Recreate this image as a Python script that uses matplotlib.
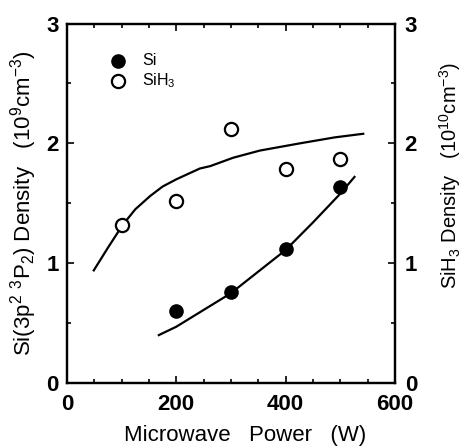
import matplotlib.pyplot as plt
from matplotlib.ticker import MultipleLocator

plt.rcParams["font.family"] = ["Liberation Sans", "DejaVu Sans"]
plt.rcParams["mathtext.fontset"] = "custom"
plt.rcParams["mathtext.rm"] = "Liberation Sans"
plt.rcParams["mathtext.it"] = "Liberation Sans"
plt.rcParams["mathtext.bf"] = "Liberation Sans:bold"

# measured points
si_power = [200, 300, 400, 500]
si_density = [0.60, 0.76, 1.12, 1.635]
sih3_power = [100, 200, 300, 400, 500]
sih3_density = [1.32, 1.52, 2.12, 1.79, 1.87]

# guide curves
si_curve_power = [168, 200, 250, 300, 350, 400, 450, 500, 526]
si_curve_density = [0.40, 0.47, 0.61, 0.75, 0.93, 1.11, 1.34, 1.58, 1.72]
sih3_curve_power = [49, 75, 102, 125, 152, 175, 200, 243, 262, 304, 353, 426, 490, 542]
sih3_curve_density = [0.94, 1.13, 1.32, 1.45, 1.56, 1.64, 1.70, 1.79, 1.81, 1.88, 1.94, 2.00, 2.05, 2.08]

fig = plt.figure(figsize=(4.63, 4.48), dpi=100)
ax = fig.add_axes([0.1447, 0.145, 0.7083, 0.8025])
ax2 = ax.twinx()

ax.plot(si_curve_power, si_curve_density, "-", color="black", lw=1.6)
ax2.plot(sih3_curve_power, sih3_curve_density, "-", color="black", lw=1.6)
ax.plot(si_power, si_density, "o", color="black", ms=9.5, zorder=3)
ax2.plot(sih3_power, sih3_density, "o", mfc="white", mec="black", mew=1.6, ms=9.5, zorder=3)

for a in (ax, ax2):
    a.set_xlim(0, 600)
    a.set_ylim(0, 3)
    a.yaxis.set_major_locator(MultipleLocator(1))
    a.yaxis.set_minor_locator(MultipleLocator(0.5))
    for s in a.spines.values():
        s.set_linewidth(1.6)

ax.xaxis.set_major_locator(MultipleLocator(200))
ax.xaxis.set_minor_locator(MultipleLocator(50))
ax.tick_params(which="both", direction="in", top=True, width=1.2)
ax.tick_params(which="major", length=5, labelsize=16)
ax.tick_params(axis="x", which="major", pad=8)
ax.tick_params(axis="y", which="major", pad=6)
ax.tick_params(which="minor", length=3)
ax2.tick_params(which="both", direction="in", width=1.2)
ax2.tick_params(which="major", length=5, labelsize=16, pad=7)
ax2.tick_params(which="minor", length=3)
for lab in ax.get_xticklabels() + ax.get_yticklabels() + ax2.get_yticklabels():
    lab.set_fontweight("bold")

ax.set_xlabel("Microwave   Power   (W)", fontsize=16, va="top")
ax.xaxis.set_label_coords(0.543, -0.116)
ax.set_ylabel(r"Si(3p$^2$ $^3$P$_2$) Density   (10$^9$cm$^{-3}$)", fontsize=16, va="center")
ax.yaxis.set_label_coords(-0.131, 0.5)
ax2.set_ylabel(r"SiH$_3$ Density   (10$^{10}$cm$^{-3}$)", fontsize=14.5, va="center")
ax2.yaxis.set_label_coords(1.168, 0.577)

# legend drawn by hand like the original
ax.plot([93], [2.69], "o", color="black", ms=9.5)
ax.text(137, 2.69, "Si", fontsize=11.5, va="center")
ax.plot([93], [2.52], "o", mfc="white", mec="black", mew=1.6, ms=9.5)
ax.text(137, 2.52, r"SiH$_3$", fontsize=11.5, va="center")

fig.savefig("out.png", dpi=100)
